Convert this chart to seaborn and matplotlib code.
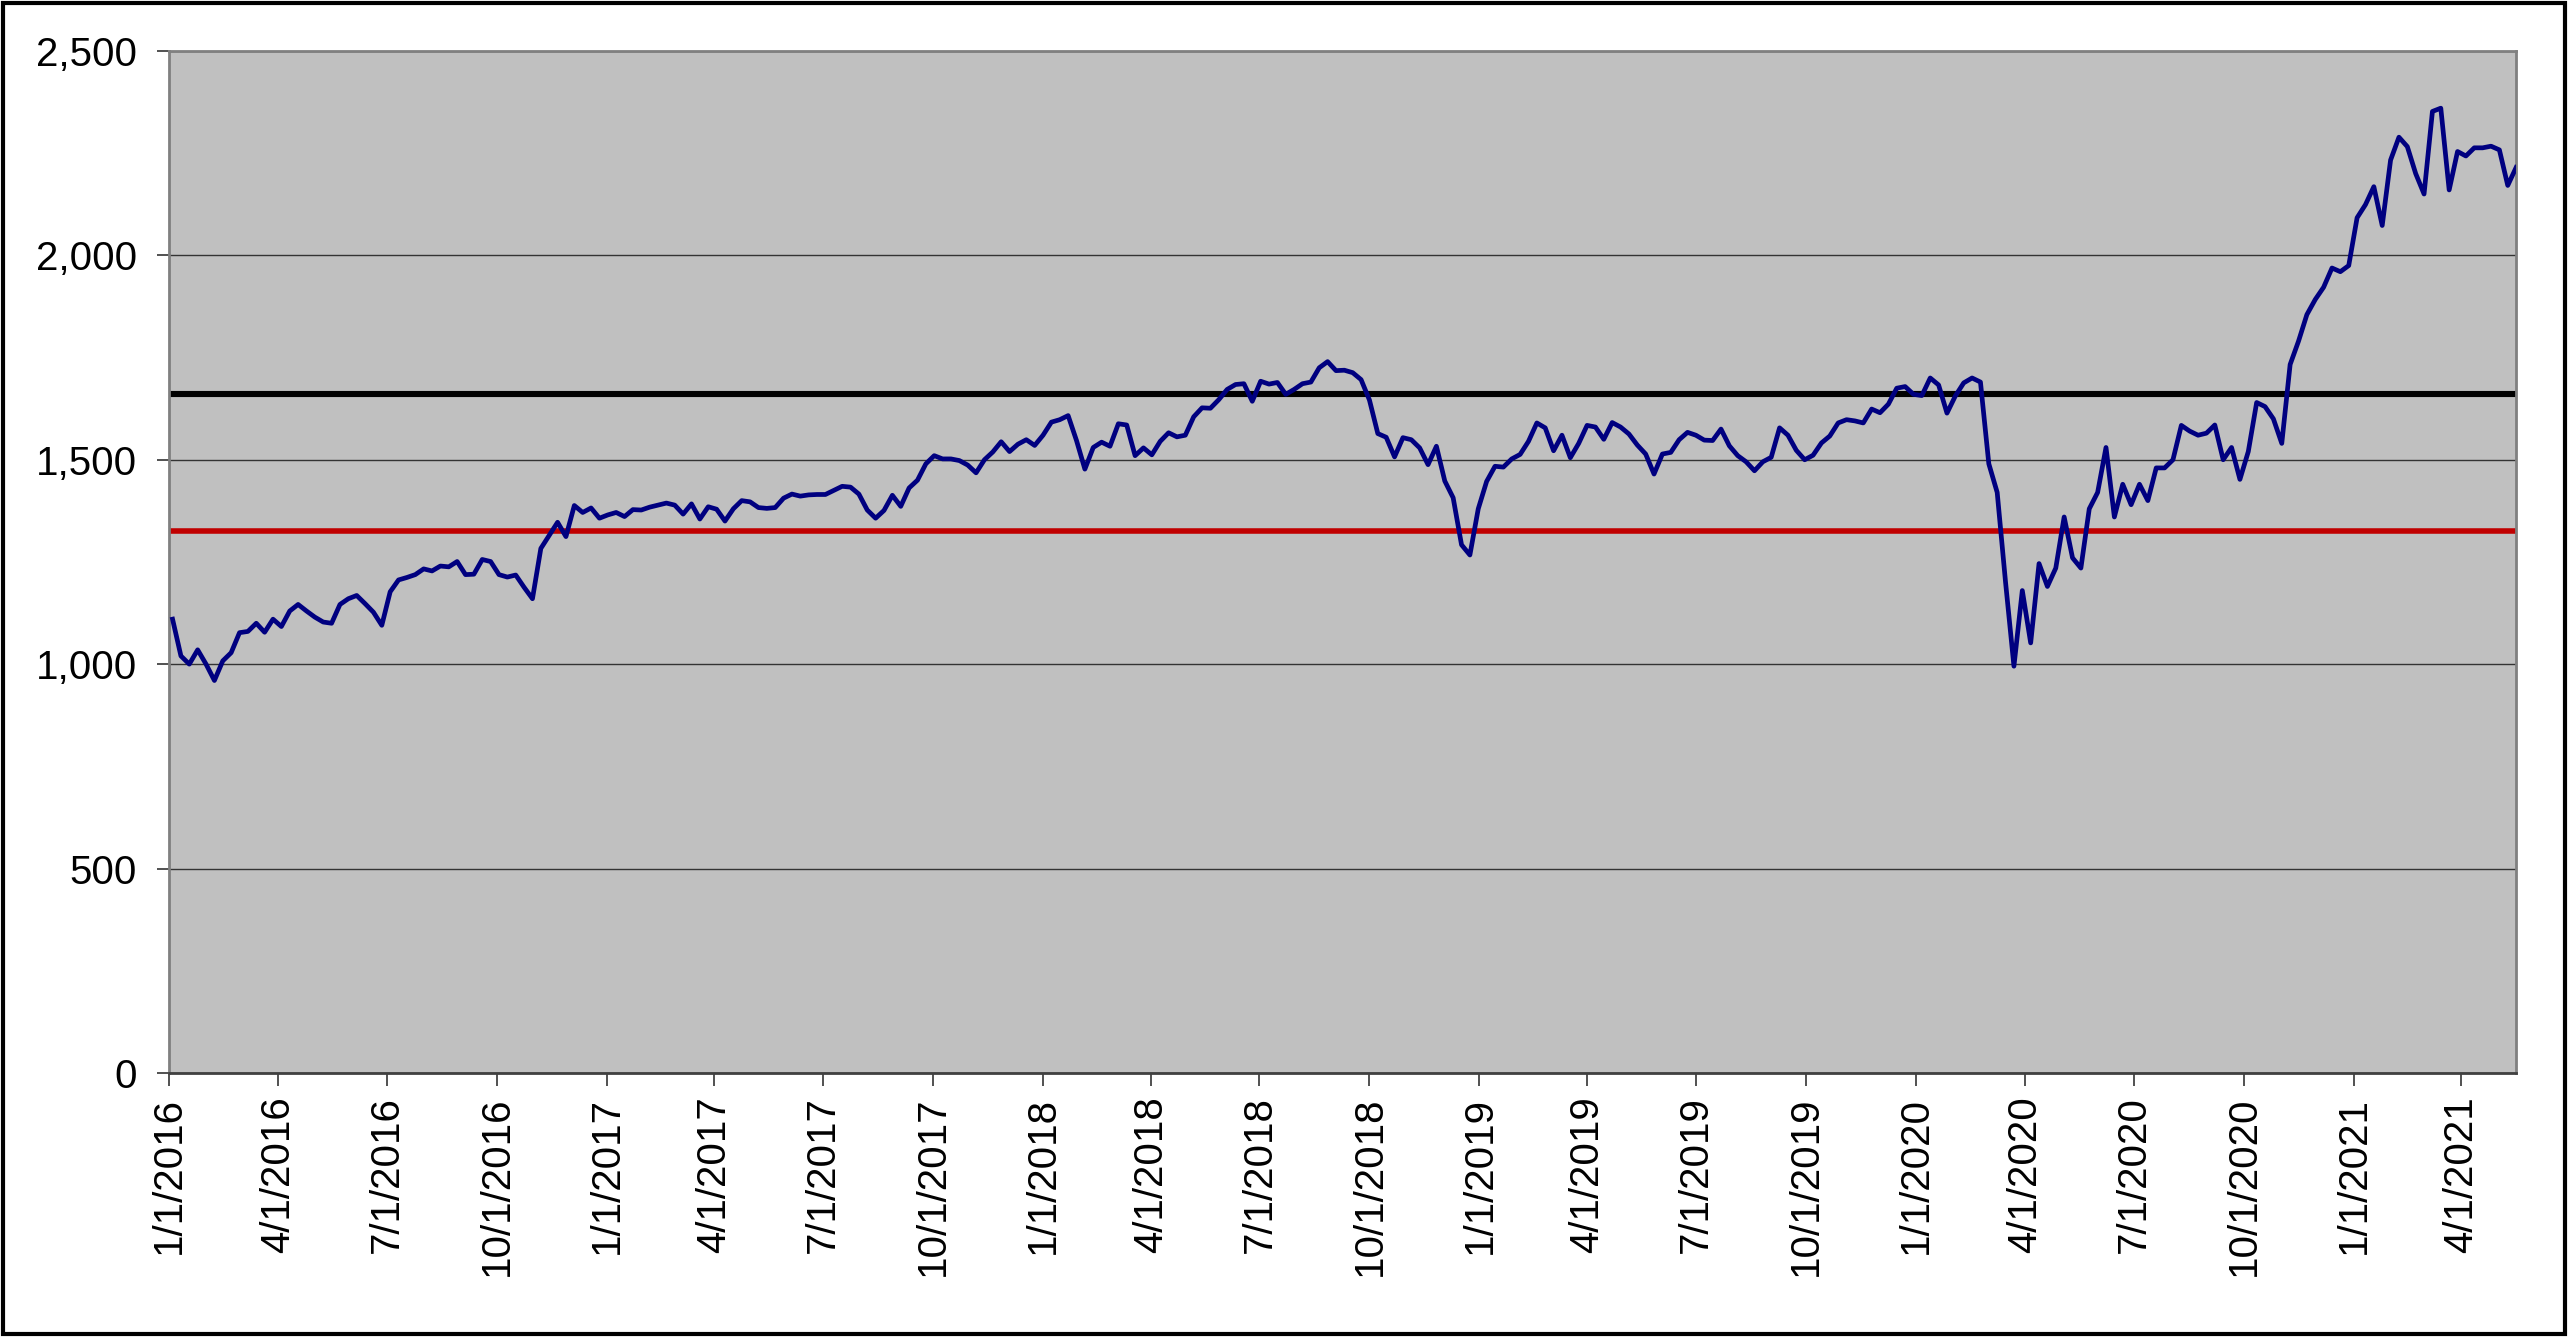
import numpy as np
import pandas as pd
import matplotlib
matplotlib.use("Agg")
import matplotlib.pyplot as plt
import seaborn as sns
from matplotlib.patches import Rectangle

# weekly index levels (week starting Monday 2016-01-04)
vals_2016 = [1110, 1020, 1000, 1035, 1000, 960, 1008, 1028, 1077, 1080, 1100, 1078, 1110,
             1092, 1130, 1146, 1130, 1115, 1103, 1100, 1146, 1160, 1168, 1148, 1127, 1095,
             1177, 1206, 1212, 1219, 1233, 1228, 1240, 1238, 1251, 1219, 1220, 1256, 1251,
             1219, 1213, 1218, 1188, 1160, 1283, 1315, 1347, 1312, 1388, 1371, 1382, 1357]
vals_2017 = [1365, 1371, 1361, 1378, 1377, 1384, 1389, 1394, 1389, 1367, 1392, 1355, 1385,
             1379, 1350, 1380, 1400, 1397, 1383, 1381, 1383, 1406, 1416, 1411, 1414, 1415,
             1415, 1425, 1435, 1433, 1416, 1377, 1357, 1376, 1413, 1386, 1431, 1450, 1490,
             1510, 1502, 1502, 1498, 1487, 1468, 1500, 1519, 1544, 1520, 1538, 1549, 1535]
vals_2018 = [1560, 1592, 1598, 1608, 1547, 1477, 1530, 1543, 1533, 1588, 1585, 1510, 1529,
             1512, 1545, 1566, 1556, 1560, 1605, 1627, 1626, 1647, 1672, 1684, 1686, 1643,
             1692, 1685, 1689, 1660, 1672, 1686, 1690, 1725, 1740, 1718, 1719, 1713, 1696,
             1646, 1564, 1555, 1507, 1554, 1549, 1529, 1488, 1533, 1448, 1407, 1292, 1267]
vals_2019 = [1380, 1447, 1484, 1482, 1502, 1513, 1545, 1590, 1578, 1522, 1560, 1505, 1540,
             1584, 1580, 1550, 1591, 1580, 1563, 1536, 1514, 1465, 1514, 1518, 1549, 1567,
             1560, 1548, 1547, 1575, 1534, 1510, 1495, 1473, 1495, 1506, 1578, 1560, 1523,
             1500, 1511, 1541, 1558, 1590, 1598, 1595, 1590, 1624, 1615, 1636, 1675, 1679]
vals_2020 = [1660, 1657, 1700, 1683, 1614, 1656, 1688, 1700, 1690, 1490, 1420, 1200, 995,
             1180, 1052, 1246, 1190, 1235, 1360, 1260, 1235, 1380, 1420, 1530, 1360, 1440,
             1390, 1440, 1400, 1480, 1480, 1500, 1584, 1570, 1560, 1565, 1585, 1500, 1530,
             1452, 1520, 1640, 1630, 1600, 1540, 1733, 1790, 1855, 1892, 1922, 1969, 1960]
vals_2021 = [1975, 2092, 2124, 2168, 2073, 2233, 2289, 2266, 2200, 2150, 2352, 2360, 2160,
             2254, 2243, 2263, 2263, 2267, 2258, 2171, 2215]

upper_level = 1660
lower_level = 1326

y_ticks = [0, 500, 1000, 1500, 2000, 2500]

values = vals_2016 + vals_2017 + vals_2018 + vals_2019 + vals_2020 + vals_2021
dates = pd.date_range("2016-01-04", periods=len(values), freq="7D")
df = pd.DataFrame({"date": dates, "level": values})

tick_dates = pd.date_range("2016-01-01", "2021-04-01", freq="QS")
tick_labels = [f"{d.month}/{d.day}/{d.year}" for d in tick_dates]

plt.rcParams["font.family"] = ["Liberation Sans", "DejaVu Sans"]

fig = plt.figure(figsize=(25.68, 13.37), dpi=100)
ax = fig.add_axes([0.0658, 0.1975, 0.9140, 0.7644])
ax.set_facecolor("#C0C0C0")

ax.axhline(upper_level, color="black", lw=4.4, zorder=2)
ax.axhline(lower_level, color="#C00000", lw=4.0, zorder=2)
sns.lineplot(data=df, x="date", y="level", ax=ax, color="#000080", linewidth=3.4, zorder=3)

ax.set_ylim(0, 2500)
ax.set_yticks(y_ticks)
ax.set_yticklabels([f"{v:,}" for v in y_ticks])
ax.yaxis.grid(True, color="#333333", lw=1.0)
ax.set_axisbelow(True)

ax.set_xlim(pd.Timestamp("2016-01-01"), dates[-1])
ax.set_xticks(tick_dates)
ax.set_xticklabels(tick_labels, rotation=90, va="top", ha="center")

ax.set_xlabel("")
ax.set_ylabel("")
ax.tick_params(axis="y", labelsize=29, length=9, width=1.2, pad=14, color="#333333")
ax.tick_params(axis="x", labelsize=29, length=9, width=1.2, pad=8, color="#333333")

for side in ["left", "top", "right"]:
    ax.spines[side].set_color("#808080")
    ax.spines[side].set_linewidth(2)
ax.spines["bottom"].set_color("#404040")
ax.spines["bottom"].set_linewidth(2)

fig.add_artist(Rectangle((0.0012, 0.0022), 0.9976, 0.9956, transform=fig.transFigure,
                         fill=False, edgecolor="black", lw=3))

fig.savefig("out.png", dpi=100, facecolor="white")
